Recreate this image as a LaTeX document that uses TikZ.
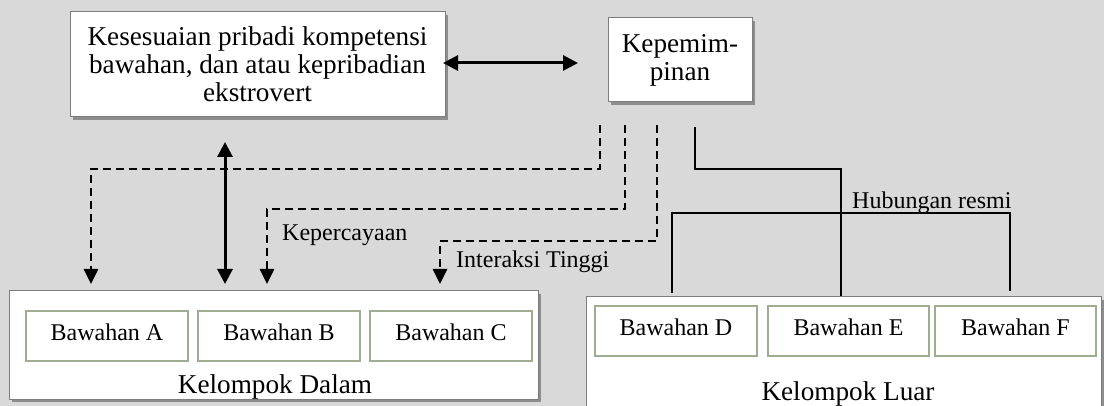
\documentclass[tikz,border=0pt]{standalone}
\usepackage{fontspec}
\setmainfont{Liberation Serif}
\usetikzlibrary{arrows.meta,shadows,calc}
\definecolor{bg}{HTML}{D9D9D9}
\definecolor{sage}{RGB}{160,172,145}
\definecolor{edgegray}{RGB}{125,125,125}
\begin{document}
\begin{tikzpicture}[x=1pt,y=-1pt,
  bigtext/.style={font=\fontsize{27.2}{28}\selectfont},
  smalltext/.style={font=\fontsize{24}{27}\selectfont},
  whitebox/.style={draw=edgegray, line width=1pt, fill=white, inner sep=0pt,
    drop shadow={shadow xshift=3pt,shadow yshift=-3pt,fill=black,opacity=0.35}},
  subbox/.style={draw=sage, line width=2.5pt, fill=white, minimum width=162pt,
    minimum height=50pt, inner sep=0pt, smalltext, text depth=8pt},
  dasharrow/.style={line width=2.6pt, dash pattern=on 8pt off 5pt,
    -{Triangle[length=15pt,width=14pt]}},
  dblarrow/.style={line width=3pt,
    {Triangle[length=15pt,width=15pt]}-{Triangle[length=15pt,width=15pt]}},
  solidline/.style={line width=1.8pt},
  lbl/.style={smalltext, inner sep=0pt}]
\fill[bg] (0,0) rectangle (1104,406);
\useasboundingbox (0,0) rectangle (1104,406);

% top boxes
\node[whitebox, bigtext, minimum width=375pt, minimum height=105pt, align=center]
  (fit) at (257.5,64.5) {Kesesuaian pribadi kompetensi\\bawahan, dan atau kepribadian\\ekstrovert};
\node[whitebox, bigtext, minimum width=144pt, minimum height=84pt, align=center]
  (kep) at (680,60) {Kepemim-\\pinan};

% groups
\node[whitebox, minimum width=529pt, minimum height=108pt] (dalam) at (273.5,345) {};
\node[whitebox, minimum width=515pt, minimum height=123pt] (luar) at (843.5,358.5) {};

\node[subbox] (ba) at (107,336) {Bawahan A};
\node[subbox] (bb) at (279,336) {Bawahan B};
\node[subbox] (bc) at (451,336) {Bawahan C};
\node[subbox] (bd) at (676,331) {Bawahan D};
\node[subbox, minimum width=161pt] (be) at (848.5,331) {Bawahan E};
\node[subbox, minimum width=161pt] (bf) at (1015.5,331) {Bawahan F};

\node[bigtext, inner sep=0pt] (tdalam) at (275,387) {Kelompok Dalam};
\node[bigtext, inner sep=0pt] (tluar) at (848,394) {Kelompok Luar};

% labels
\node[lbl, anchor=west] (lkep) at (282,235) {Kepercayaan};
\node[lbl, anchor=west] (lint) at (456,262) {Interaksi Tinggi};
\node[lbl, anchor=base west] (lhub) at (852,209) {Hubungan resmi};

% coordinates
\coordinate (h1) at (443,63);
\coordinate (h2) at (578,63);
\coordinate (v1) at (225,142);
\coordinate (v2) at (225,284);
\coordinate (d1) at (600,125);
\coordinate (d2) at (625,125);
\coordinate (d3) at (657,125);
\coordinate (e1) at (91,284);
\coordinate (e2) at (267,284);
\coordinate (e3) at (440,284);
\coordinate (s1) at (695,127);
\coordinate (s2) at (841,296);
\coordinate (b1) at (672,293);
\coordinate (b2) at (1010,291);

% connectors
\draw[dblarrow] (h1) -- (h2);
\draw[dblarrow] (v1) -- (v2);
\draw[dasharrow] (d1) |- (91,169) -- (e1);
\draw[dasharrow] (d2) |- (267,209) -- (e2);
\draw[dasharrow] (d3) |- (440,241) -- (e3);
\draw[solidline] (s1) |- (841,169) -- (s2);
\draw[solidline] (b1) |- (1010,213) -- (b2);
\end{tikzpicture}
\end{document}
